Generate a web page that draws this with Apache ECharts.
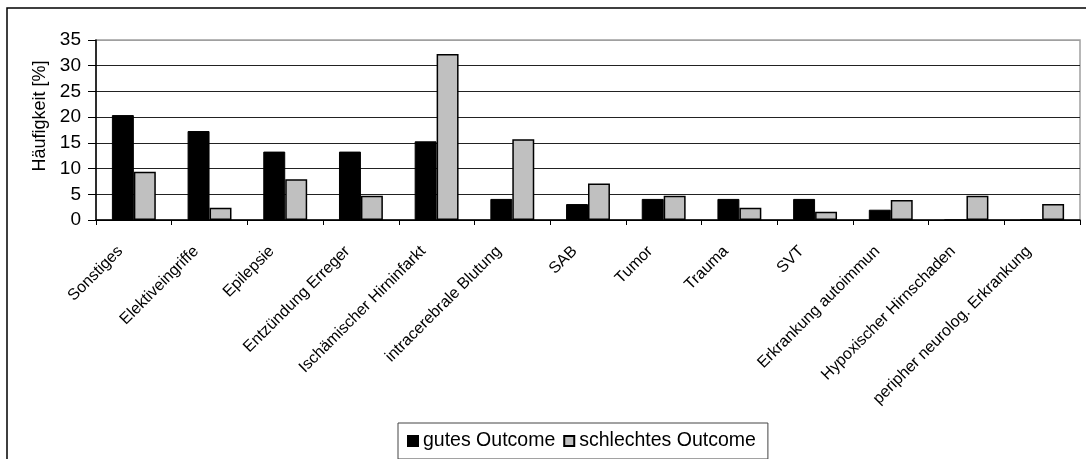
<!DOCTYPE html>
<html>
<head>
<meta charset="utf-8">
<script src="https://cdn.jsdelivr.net/npm/echarts@6/dist/echarts.min.js"></script>
<style>
  html, body { margin: 0; padding: 0; background: #fff; }
  #chart { width: 1086px; height: 459px; }
</style>
</head>
<body>
<div id="chart"></div>
<script>
// Diagnosegruppen
const categories = [
  'Sonstiges', 'Elektiveingriffe', 'Epilepsie', 'Entzündung Erreger',
  'Ischämischer Hirninfarkt', 'intracerebrale Blutung', 'SAB', 'Tumor',
  'Trauma', 'SVT', 'Erkrankung autoimmun', 'Hypoxischer Hirnschaden',
  'peripher neurolog. Erkrankung'
];

// Häufigkeit in Prozent je Outcome-Gruppe
const gutesOutcome = [20.4, 17.3, 13.3, 13.3, 15.3, 4.1, 3.1, 4.1, 4.1, 4.1, 2.0, 0, 0];
const schlechtesOutcome = [9.4, 2.4, 7.9, 4.7, 32.3, 15.7, 7.1, 4.7, 2.4, 1.6, 3.9, 4.7, 3.1];

const yTicks = [0, 5, 10, 15, 20, 25, 30, 35];
const yTitle = 'Häufigkeit [%]';

const FONT = 'Liberation Sans, Arial, sans-serif';

const chart = echarts.init(document.getElementById('chart'), null, { renderer: 'canvas' });

chart.setOption({
  backgroundColor: '#fff',
  animation: false,
  textStyle: { fontFamily: FONT, color: '#000' },
  graphic: [
    {
      // outer chart frame
      type: 'rect',
      shape: { x: 7, y: 8, width: 1200, height: 600 },
      style: { fill: 'none', stroke: '#000', lineWidth: 1.5 },
      silent: true,
      z: -10
    },
    {
      // y axis title, vertical
      type: 'text',
      x: 40, y: 116,
      rotation: Math.PI / 2,
      style: {
        text: yTitle,
        fontFamily: FONT, fontSize: 18, fill: '#000',
        align: 'center', verticalAlign: 'middle'
      },
      silent: true
    }
  ],
  grid: {
    left: 96, right: 6, top: 40, bottom: 239,
    show: true, borderColor: '#a0a0a0', borderWidth: 1.5, backgroundColor: 'transparent'
  },
  legend: {
    left: 398, top: 423,
    padding: [8, 12, 8, 9],
    borderColor: '#444', borderWidth: 1,
    itemWidth: 10, itemHeight: 10, itemGap: 8,
    icon: 'rect',
    textStyle: { fontFamily: FONT, fontSize: 19.5, color: '#000' },
    data: ['gutes Outcome', 'schlechtes Outcome']
  },
  xAxis: {
    type: 'category',
    data: categories,
    axisLine: { lineStyle: { color: '#000', width: 1.5 } },
    axisTick: { show: true, alignWithLabel: false, interval: 0, length: 5, lineStyle: { color: '#000' } },
    axisLabel: {
      interval: 0, rotate: 45, margin: 4,
      verticalAlign: 'top',
      padding: [0, 27, 0, 0],
      fontFamily: FONT, fontSize: 16, color: '#000'
    },
    splitLine: { show: false }
  },
  yAxis: {
    type: 'value',
    min: 0, max: 35, interval: 5,
    axisLine: { show: true, lineStyle: { color: '#000', width: 1.5 } },
    axisTick: { show: true, inside: false, length: 8, lineStyle: { color: '#000' } },
    axisLabel: {
      fontFamily: FONT, fontSize: 19, color: '#000', margin: 15,
      formatter: v => (yTicks.indexOf(v) >= 0 ? String(v) : '')
    },
    splitLine: {
      show: true,
      lineStyle: { color: ['#000', '#222', '#222', '#222', '#222', '#222', '#222', '#a0a0a0'], width: 1 }
    }
  },
  series: [
    {
      name: 'gutes Outcome',
      type: 'bar',
      data: gutesOutcome,
      barGap: '0%',
      barCategoryGap: '42%',
      itemStyle: { color: '#000', borderColor: '#000', borderWidth: 1 }
    },
    {
      name: 'schlechtes Outcome',
      type: 'bar',
      data: schlechtesOutcome,
      barGap: '0%',
      barCategoryGap: '42%',
      itemStyle: { color: '#c0c0c0', borderColor: '#000', borderWidth: 1.5 }
    }
  ]
});
</script>
</body>
</html>
